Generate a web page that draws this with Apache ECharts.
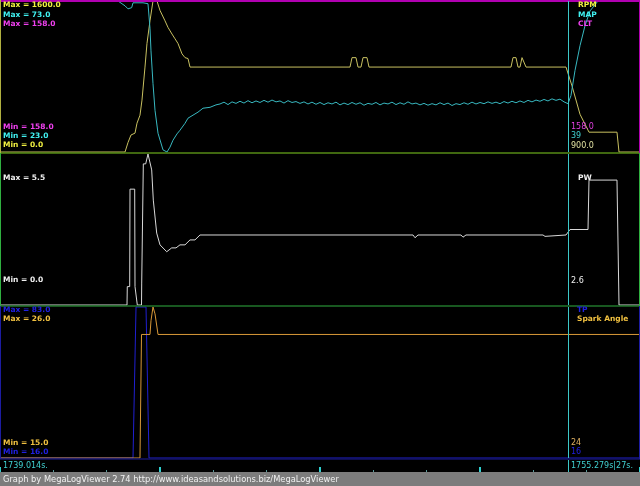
<!DOCTYPE html>
<html><head><meta charset="utf-8">
<script src="https://cdn.jsdelivr.net/npm/echarts@6/dist/echarts.min.js"></script>
<style>html,body{margin:0;padding:0;background:#000;}#c{width:640px;height:486px;}</style>
</head><body><div id="c"></div>
<script>
// ---- data (time in seconds relative to TIME_START) ----
const TIME_START = 1739.014;
const TIME_SPAN = 18.327;
const CURSOR_T = 16.265;
const CURSOR_TEXT = "1755.279s|27s.";

const rpmData = [[0,0],[3.580,0],[3.665,100],[3.751,180],[3.866,200],[3.923,305],[4.009,390],[4.066,550],[4.152,900],[4.209,1150],[4.295,1390],[4.381,1600],[4.496,1600],[4.582,1500],[4.725,1390],[4.811,1320],[4.925,1250],[5.011,1200],[5.097,1150],[5.212,1040],[5.298,1000],[5.384,990],[5.441,900],[10.023,900],[10.080,1000],[10.194,1000],[10.252,900],[10.338,900],[10.395,1000],[10.509,1000],[10.567,900],[14.633,900],[14.690,1000],[14.776,1000],[14.833,900],[14.891,900],[14.948,1000],[15.005,1000],[15.063,900],[16.208,900],[16.265,900],[16.380,700],[16.609,400],[16.867,210],[17.668,210],[17.726,0],[18.327,0]];

const mapHead = [[0,73],[3.379,73],[3.436,72.4],[3.580,71.4],[3.665,70.4],[3.771,70.8],[3.809,72.4],[3.866,73],[4.095,72.4],[4.238,72.1],[4.295,64],[4.324,56.5],[4.381,45.7],[4.439,36.8],[4.525,29.2],[4.668,23.7],[4.782,23],[4.868,24.6],[4.954,26.9],[5.069,29],[5.154,30.2],[5.298,32.5],[5.384,34.2],[5.527,35.2],[5.670,36.2],[5.813,37.5],[6.014,37.8],[6.185,38.6]];
const MAP_IDLE_T0 = 6.300;   // first idle sample time
const MAP_IDLE_DT = 0.11454; // logger sample interval
const mapIdle = [38.9,39.5,38.7,39.6,39.1,39.8,39.2,40.0,39.3,39.9,39.4,
  40.1,39.5,40.2,39.6,39.9,39.2,40.0,39.4,39.7,39.1,
  39.6,38.9,39.5,38.8,39.4,38.7,39.3,38.9,39.5,38.6,
  39.2,38.7,39.4,38.8,39.3,38.5,39.1,38.8,39.4,38.6,
  39.2,38.9,39.5,38.7,39.3,38.8,39.6,38.9,39.2,38.6,
  39.1,38.5,39.0,38.6,39.3,38.7,39.2,38.4,39.0,38.7,
  39.3,38.8,39.5,38.9,39.4,39.0,39.6,39.1,39.5,39.0,
  39.7,39.2,39.8,39.3,39.9,39.4,40.1,39.6,40.2,39.8,
  40.4,39.9,40.6,40.1,40.5];
const mapTail = [[16.151,39.6],[16.265,39],[16.351,41.7],[16.466,50],[16.609,58.2],[16.752,64.8],[16.895,69.7],[17.124,73],[18.327,73]];

const cltData = [[0,158],[18.327,158]];

const pwData = [[0,0],[3.637,0],[3.645,0.67],[3.714,0.67],[3.723,4.22],[3.857,4.22],[3.866,0.67],[3.923,0.67],[3.932,0],[4.052,0],[4.058,0.8],[4.095,0.8],[4.104,5.14],[4.172,5.14],[4.238,5.5],[4.344,4.92],[4.390,3.82],[4.487,2.62],[4.582,2.19],[4.774,1.94],[4.917,2.08],[5.040,2.08],[5.154,2.19],[5.298,2.19],[5.441,2.37],[5.584,2.37],[5.727,2.55],[11.827,2.55],[11.884,2.45],[11.970,2.55],[13.201,2.55],[13.258,2.47],[13.344,2.55],[15.549,2.55],[15.607,2.5],[15.664,2.55],[16.208,2.55],[16.265,2.6],[16.323,2.75],[16.838,2.75],[16.867,4.55],[17.668,4.55],[17.726,0],[18.327,0]];

const tpData = [[0,16],[3.809,16],[3.895,83],[4.181,83],[4.267,16],[18.327,16]];
const sparkData = [[0,15],[4.009,15],[4.052,24],[4.295,24],[4.324,25],[4.381,26],[4.439,25.5],[4.525,24],[18.327,24]];

const ranges = {rpm:[0,1600], map:[23,73], clt:[157,158], pw:[0,5.5], tp:[16,83], spark:[15,26]};

// ---- build ----
const mapData = mapHead.concat(mapIdle.map((v,i)=>[+(MAP_IDLE_T0+i*MAP_IDLE_DT).toFixed(3), v]), mapTail);

const chart = echarts.init(document.getElementById('c'), null, {renderer:'canvas'});
const CUR = '#3cc8c8';
const hiddenX = (g)=>({type:'value', gridIndex:g, min:0, max:TIME_SPAN, show:false});
const hiddenY = (g,r)=>({type:'value', gridIndex:g, min:r[0], max:r[1], show:false});
const cursorLine = {silent:true, symbol:['none','none'], label:{show:false}, lineStyle:{color:CUR, width:1, type:'solid'}, data:[{xAxis:CURSOR_T}], animation:false};
const ln = (name,x,y,data,color,extra)=>Object.assign({type:'line', name, xAxisIndex:x, yAxisIndex:y, data, showSymbol:false, symbol:'none', lineStyle:{color, width:1}, animation:false, clip:true}, extra||{});

const bold = 'bold 7.5px "DejaVu Sans"';
const norm = '8px "DejaVu Sans"';
const txt = (t,x,y,fill,font)=>({type:'text', x, y, silent:true, z:100, style:{text:t, fill, font: font||bold, verticalAlign:'middle', align:'left'}});
const hline = (y,x1,x2,color)=>({type:'line', silent:true, z:90, shape:{x1,y1:y,x2,y2:y}, style:{stroke:color, lineWidth:1}});
const vline = (x,y1,y2,color)=>({type:'line', silent:true, z:90, shape:{x1:x,y1,x2:x,y2}, style:{stroke:color, lineWidth:1}});

const option = {
  backgroundColor:'#000',
  animation:false,
  grid:[
    {left:0, right:0, top:1, height:151},
    {left:0, right:0, top:154, height:151},
    {left:0, right:0, top:307, height:151},
    {left:0, right:0, top:460, height:12}
  ],
  xAxis:[hiddenX(0), hiddenX(1), hiddenX(2),
    {type:'value', gridIndex:3, min:0, max:TIME_SPAN, interval:TIME_SPAN/12, position:'bottom', axisLine:{show:false}, axisLabel:{show:false}, splitLine:{show:false}, axisTick:{show:true, inside:true, length:2, lineStyle:{color:'#5a9a9a', width:1}}},
    {type:'value', gridIndex:3, min:0, max:TIME_SPAN, interval:TIME_SPAN/4, position:'bottom', axisLine:{show:false}, axisLabel:{show:false}, splitLine:{show:false}, axisTick:{show:true, inside:true, length:5, lineStyle:{color:'#30d0d0', width:2}}}
  ],
  yAxis:[hiddenY(0,ranges.rpm), hiddenY(0,ranges.map), hiddenY(0,ranges.clt), hiddenY(1,ranges.pw), hiddenY(2,ranges.tp), hiddenY(2,ranges.spark), hiddenY(3,[0,1])],
  series:[
    ln('RPM',0,0,rpmData,'#c8c060',{markLine:cursorLine}),
    ln('MAP',0,1,mapData,'#38b8c0'),
    ln('CLT',0,2,cltData,'#b000b0',{lineStyle:{color:'#b000b0', width:2}}),
    ln('PW',1,3,pwData,'#d8d8d8',{markLine:cursorLine}),
    ln('TP',2,4,tpData,'#2020d0',{markLine:cursorLine}),
    ln('Spark Angle',2,5,sparkData,'#d89838'),
    ln('cursor',3,6,[],'rgba(0,0,0,0)',{markLine:cursorLine})
  ],
  graphic:[
    hline(153,0,640,'#80d020'),
    hline(306,0,640,'#30b040'),
    hline(459,0,640,'#1c1ca0'),
    vline(0.5,0,153,'#b0b040'),
    vline(0.5,153,306,'#30b040'),
    vline(0.5,306,459,'#1c1ca0'),
    vline(639.5,0,153,'#b000b0'),
    vline(639.5,153,306,'#30b040'),
    vline(639.5,306,459,'#1c1ca0'),
    txt('Max = '+ranges.rpm[1].toFixed(1),3,5.5,'#f0f040'),
    txt('Max = '+ranges.map[1].toFixed(1),3,15,'#40f0f0'),
    txt('Max = '+ranges.clt[1].toFixed(1),3,24.5,'#f040f0'),
    txt('Min = '+ranges.clt[1].toFixed(1),3,127,'#f040f0'),
    txt('Min = '+ranges.map[0].toFixed(1),3,136.2,'#40f0f0'),
    txt('Min = '+ranges.rpm[0].toFixed(1),3,145.5,'#f0f040'),
    txt('RPM',578,5.5,'#f0f040'),
    txt('MAP',578,15,'#40f0f0'),
    txt('CLT',578,24.5,'#f040f0'),
    txt('158.0',571,127,'#e040e0',norm),
    txt('39',571,136.2,'#40d0d0',norm),
    txt('900.0',571,145.5,'#e0e0a0',norm),
    txt('Max = '+ranges.pw[1].toFixed(1),3,177.7,'#f0f0f0'),
    txt('Min = '+ranges.pw[0].toFixed(1),3,280.5,'#f0f0f0'),
    txt('PW',578,177.7,'#f0f0f0'),
    txt('2.6',571,280.5,'#f0f0f0',norm),
    txt('Max = '+ranges.tp[1].toFixed(1),3,310.5,'#2020e0'),
    txt('Max = '+ranges.spark[1].toFixed(1),3,319.5,'#f0c040'),
    txt('TP',577,310.5,'#2020e0'),
    txt('Spark Angle',577,319.5,'#f0c040'),
    txt('Min = '+ranges.spark[0].toFixed(1),3,442.8,'#f0c040'),
    txt('Min = '+ranges.tp[0].toFixed(1),3,452,'#2020e0'),
    txt('24',571,442.8,'#e0b060',norm),
    txt('16',571,452,'#2020e0',norm),
    txt(TIME_START.toFixed(3)+'s.',3,465.5,'#40d0d0',norm),
    txt(CURSOR_TEXT,571,465.5,'#40d0d0',norm),
    {type:'rect', silent:true, z:80, shape:{x:0,y:472,width:640,height:14}, style:{fill:'#7c7c7c'}},
    txt('Graph by MegaLogViewer 2.74 http://www.ideasandsolutions.biz/MegaLogViewer',3,479.5,'#f0f0f0','8.3px "DejaVu Sans"')
  ]
};
chart.setOption(option);
</script></body></html>
